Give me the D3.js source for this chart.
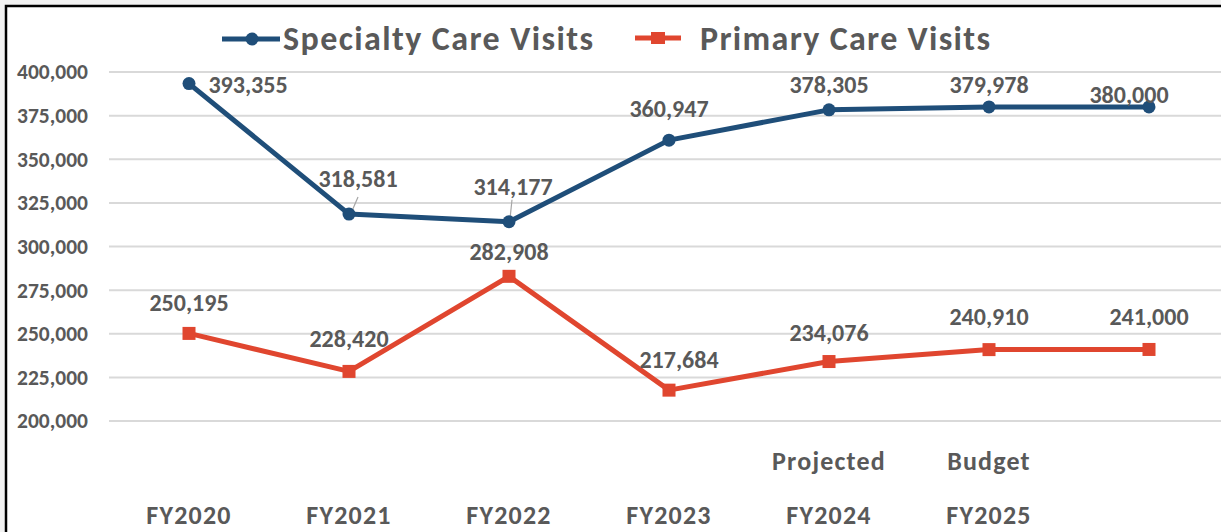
<!DOCTYPE html>
<html>
<head>
<meta charset="utf-8">
<script src="https://cdn.jsdelivr.net/npm/d3@7"></script>
<style>
  body { margin: 0; background: #f2f2f2; }
  svg { display: block; }
  text { font-family: Carlito, Lato, "Liberation Sans", sans-serif; font-weight: bold; fill: #595959; }
</style>
</head>
<body>
<script>
// chart data
var years = ["FY2020", "FY2021", "FY2022", "FY2023", "FY2024", "FY2025", ""];
var topLabels = ["", "", "", "", "Projected", "Budget", ""];
var specialty = [393355, 318581, 314177, 360947, 378305, 379978, 380000];
var primary = [250195, 228420, 282908, 217684, 234076, 240910, 241000];
var yTicks = [200000, 225000, 250000, 275000, 300000, 325000, 350000, 375000, 400000];

// label nudges (dx, dy) relative to each point
var specOffsets = [[59, 9], [9, -27], [4, -27], [0, -23], [0, -17], [0, -14], [-20, -4]];
var primOffsets = [[0, -22], [0, -24], [0, -16], [10, -22], [0, -21], [0, -25], [0, -24]];

var W = 1221, H = 532;
var blue = "#1F4E79", red = "#E0462F";

var svg = d3.select("body").append("svg")
  .attr("width", W)
  .attr("height", H);

// white chart area with black frame on top/left
svg.append("rect")
  .attr("x", 6).attr("y", 6)
  .attr("width", W).attr("height", H)
  .attr("fill", "#fff")
  .attr("stroke", "#000")
  .attr("stroke-width", 2.5);

var x = d3.scalePoint()
  .domain(d3.range(years.length))
  .range([189, 1149]);

var y = d3.scaleLinear()
  .domain([200000, 400000])
  .range([421, 72]);

var fmt = d3.format(",");

// gridlines
svg.append("g")
  .selectAll("line")
  .data(yTicks)
  .enter().append("line")
  .attr("x1", 109).attr("x2", W)
  .attr("y1", function (d) { return y(d); })
  .attr("y2", function (d) { return y(d); })
  .attr("stroke", "#d9d9d9")
  .attr("stroke-width", 2);

// y axis labels
var yAxis = svg.append("g")
  .attr("transform", "translate(88,0)")
  .call(d3.axisLeft(y).tickValues(yTicks).tickFormat(fmt).tickSize(0).tickPadding(0));
yAxis.select(".domain").remove();
yAxis.selectAll("text")
  .attr("font-size", 21.5)
  .attr("fill", "#595959")
  .attr("font-family", null);

// x labels
var xg = svg.append("g");
xg.selectAll(".yr")
  .data(years)
  .enter().append("text")
  .attr("class", "yr")
  .attr("x", function (d, i) { return x(i); })
  .attr("y", 524)
  .attr("text-anchor", "middle")
  .attr("font-size", 26)
  .attr("letter-spacing", 1.2)
  .text(function (d) { return d; });
xg.selectAll(".top")
  .data(topLabels)
  .enter().append("text")
  .attr("class", "top")
  .attr("x", function (d, i) { return x(i); })
  .attr("y", 470)
  .attr("text-anchor", "middle")
  .attr("font-size", 26)
  .attr("letter-spacing", 1.2)
  .text(function (d) { return d; });

var line = d3.line()
  .x(function (d, i) { return x(i); })
  .y(function (d) { return y(d); });

// leader lines for the two crowded labels
var leaders = [[1, 3, -3, 9, -17], [2, 1, -3, 3, -22]];
leaders.forEach(function (l) {
  var px = x(l[0]), py = y(specialty[l[0]]);
  svg.append("line")
    .attr("x1", px + l[1]).attr("y1", py + l[2])
    .attr("x2", px + l[3]).attr("y2", py + l[4])
    .attr("stroke", "#a6a6a6")
    .attr("stroke-width", 1.2);
});

// specialty series
svg.append("path")
  .datum(specialty)
  .attr("d", line)
  .attr("fill", "none")
  .attr("stroke", blue)
  .attr("stroke-width", 5)
  .attr("stroke-linejoin", "round");
svg.selectAll(".dotS")
  .data(specialty)
  .enter().append("circle")
  .attr("cx", function (d, i) { return x(i); })
  .attr("cy", function (d) { return y(d); })
  .attr("r", 6.5)
  .attr("fill", blue);

// primary series
svg.append("path")
  .datum(primary)
  .attr("d", line)
  .attr("fill", "none")
  .attr("stroke", red)
  .attr("stroke-width", 5)
  .attr("stroke-linejoin", "round");
svg.selectAll(".dotP")
  .data(primary)
  .enter().append("rect")
  .attr("x", function (d, i) { return x(i) - 6.5; })
  .attr("y", function (d) { return y(d) - 6.5; })
  .attr("width", 13).attr("height", 13)
  .attr("fill", red);

// value labels
function addLabels(data, offsets) {
  svg.append("g").selectAll("text")
    .data(data)
    .enter().append("text")
    .attr("x", function (d, i) { return x(i) + offsets[i][0]; })
    .attr("y", function (d, i) { return y(d) + offsets[i][1]; })
    .attr("text-anchor", "middle")
    .attr("font-size", 24)
    .attr("fill", "#404040")
    .text(function (d) { return fmt(d); });
}
addLabels(specialty, specOffsets);
addLabels(primary, primOffsets);

// legend
var legend = svg.append("g");
legend.append("line")
  .attr("x1", 222).attr("x2", 280).attr("y1", 39).attr("y2", 39)
  .attr("stroke", blue).attr("stroke-width", 5);
legend.append("circle")
  .attr("cx", 252).attr("cy", 39).attr("r", 6.5).attr("fill", blue);
legend.append("text")
  .attr("x", 283).attr("y", 50)
  .attr("font-size", 34)
  .attr("textLength", 310)
  .text("Specialty Care Visits");
legend.append("line")
  .attr("x1", 635).attr("x2", 681).attr("y1", 38).attr("y2", 38)
  .attr("stroke", red).attr("stroke-width", 5);
legend.append("rect")
  .attr("x", 651).attr("y", 32).attr("width", 14).attr("height", 12)
  .attr("fill", red);
legend.append("text")
  .attr("x", 700).attr("y", 50)
  .attr("font-size", 34)
  .attr("textLength", 290)
  .text("Primary Care Visits");
</script>
</body>
</html>
